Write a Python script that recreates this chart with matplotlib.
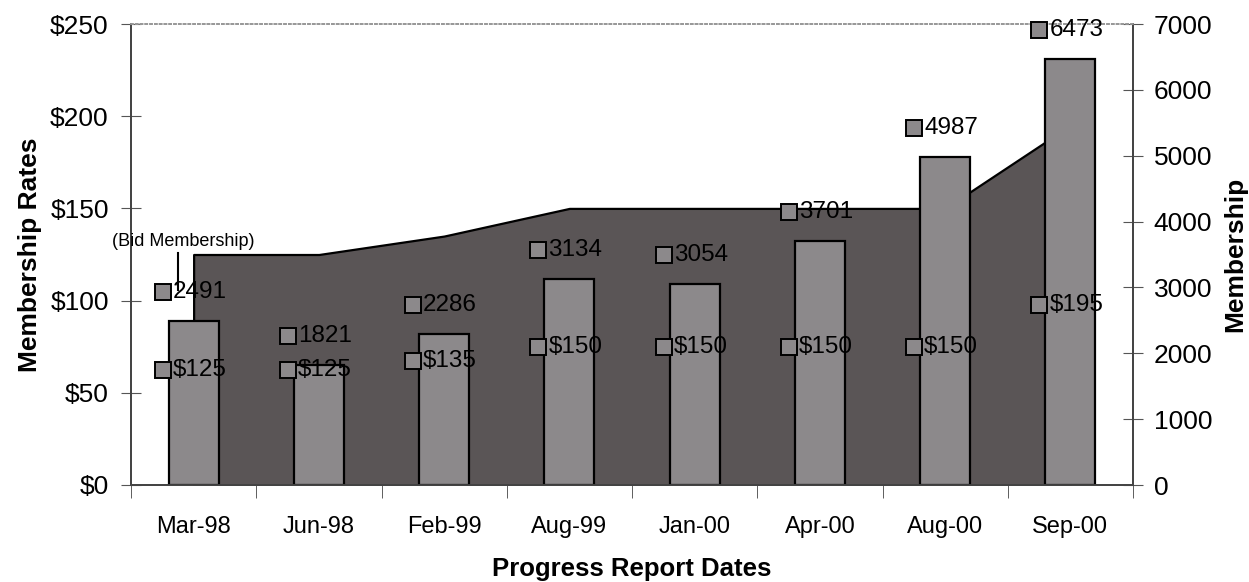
import numpy as np
import matplotlib
matplotlib.use("Agg")
import matplotlib.pyplot as plt
from matplotlib.transforms import offset_copy

dates = ["Mar-98", "Jun-98", "Feb-99", "Aug-99", "Jan-00", "Apr-00", "Aug-00", "Sep-00"]
rates = [125, 125, 135, 150, 150, 150, 150, 195]
members = [2491, 1821, 2286, 3134, 3054, 3701, 4987, 6473]

area_color = "#5a5556"
bar_color = "#8c898b"

plt.rcParams["font.family"] = ["Liberation Sans", "DejaVu Sans"]

fig = plt.figure(figsize=(12.49, 5.82), dpi=100)
ax = fig.add_axes([131 / 1249, 1 - 485 / 582, (1133 - 131) / 1249, (485 - 24) / 582])
ax2 = ax.twinx()

x = np.arange(len(dates))

# area: membership rates on the left axis
ax.fill_between(x, rates, 0, facecolor=area_color, edgecolor="black", linewidth=1.6)
ax.set_ylim(0, 250)
ax.set_xlim(-0.5, len(dates) - 0.5)
ax.set_yticks(range(0, 251, 50))
ax.set_yticklabels([f"${v}" for v in range(0, 251, 50)], fontsize=19)

# bars: membership on the right axis
ax2.bar(x, members, width=0.4, color=bar_color, edgecolor="black", linewidth=1.6)
ax2.set_ylim(0, 7000)
ax2.set_yticks(range(0, 7001, 1000))
ax2.set_yticklabels([str(v) for v in range(0, 7001, 1000)], fontsize=19)

ax.set_xticks(x)
ax.set_xticklabels(dates, fontsize=17)
ax.set_xticks(np.arange(-0.5, len(dates)), minor=True)
ax.tick_params(axis="x", which="major", length=0, pad=22)
ax.tick_params(axis="x", which="minor", length=9, direction="out", color="#444444")
ax.tick_params(axis="y", length=14, direction="inout", color="#555555", pad=9)
ax2.tick_params(axis="y", length=14, direction="inout", color="#555555", pad=8)

for a in (ax, ax2):
    for side in ("left", "right", "bottom"):
        a.spines[side].set_color("#444444")
        a.spines[side].set_linewidth(1.3)
    a.spines["top"].set_color("#999999")
    a.spines["top"].set_linestyle(":")
    a.spines["top"].set_linewidth(1.3)

ax.set_xlabel("Progress Report Dates", fontsize=18.5, fontweight="bold", labelpad=14)
ax.set_ylabel("Membership Rates", fontsize=19, fontweight="bold", labelpad=6)
ax2.set_ylabel("Membership", fontsize=19, fontweight="bold", labelpad=8)


def add_label(trans, xv, yv, dy, text, key_color):
    key_tr = offset_copy(trans, fig=fig, x=-31, y=dy, units="dots")
    txt_tr = offset_copy(trans, fig=fig, x=-21, y=dy, units="dots")
    ax2.plot([xv], [yv], marker="s", markersize=12, markerfacecolor=key_color,
             markeredgecolor="black", markeredgewidth=1.4, transform=key_tr,
             clip_on=False, zorder=5)
    ax2.text(xv, yv, text, transform=txt_tr, fontsize=17.5, ha="left",
             va="center", zorder=6, clip_on=False)


for i in range(len(dates)):
    # membership labels above each bar
    add_label(ax2.transData, x[i], members[i], 29, str(members[i]), bar_color)
    # rate labels halfway up the area
    add_label(ax.transData, x[i], rates[i] / 2, 0, f"${rates[i]}", bar_color)

# "(Bid Membership)" note with its leader line, in left-axis coordinates
ax2.text(-0.085, 132, "(Bid Membership)", transform=ax.transData,
         fontsize=13, ha="center", va="center", zorder=6)
ax2.plot([-0.125, -0.125], [126, 106], color="black", linewidth=1.5,
         transform=ax.transData, zorder=6)

fig.savefig("out.png", dpi=100)
